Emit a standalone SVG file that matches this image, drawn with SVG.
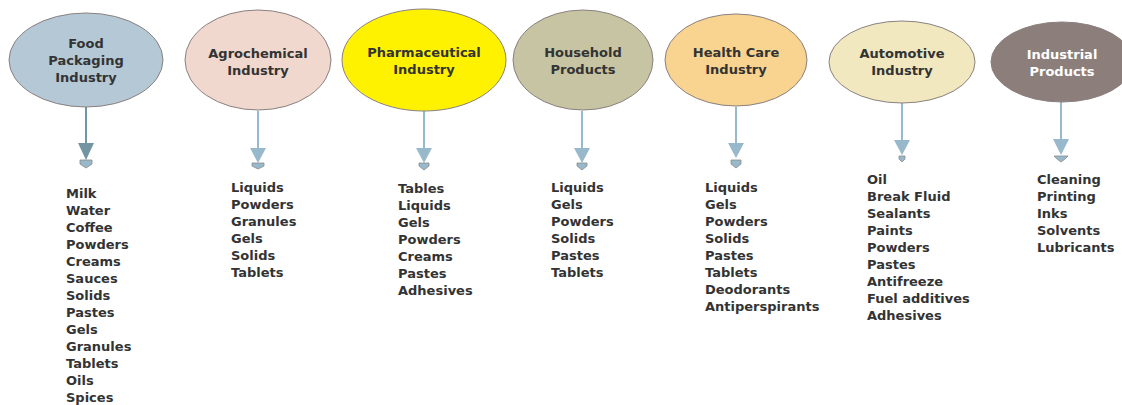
<svg xmlns="http://www.w3.org/2000/svg" width="1122" height="405" viewBox="0 0 1122 405">
<style>
.n{stroke:#8a8080;stroke-width:1}
.lbl{font-family:"DejaVu Sans",sans-serif;font-weight:bold;font-size:13px;fill:#333;text-anchor:middle}
.lst{font-family:"DejaVu Sans",sans-serif;font-weight:bold;font-size:13px;fill:#333}
.ln{stroke:#98b9cb;stroke-width:2;fill:none}
.hd{fill:#98b9cb}
.tip{fill:#98b9cb;stroke:#8a8a8a;stroke-width:0.8}
</style>
<rect width="1122" height="405" fill="#fff"/>
<g id="connectors">
<line class="ln" x1="86" y1="107" x2="86" y2="144" style="stroke:#7394a3"/>
<polygon points="78,143 94,143 86,160" fill="#7394a3"/>
<polygon class="tip" points="80,160 92,160 92,164 86,168 80,164"/>
<line class="ln" x1="258" y1="111" x2="258" y2="149"/>
<polygon class="hd" points="250,148 266,148 258,163"/>
<polygon class="tip" points="252,163 264,163 264,166 258,169 252,166"/>
<line class="ln" x1="424" y1="111" x2="424" y2="149"/>
<polygon class="hd" points="416,148 432,148 424,163"/>
<polygon class="tip" points="419,163 429,163 429,166 424,170 419,166"/>
<line class="ln" x1="582" y1="111" x2="582" y2="149"/>
<polygon class="hd" points="574,148 590,148 582,163"/>
<polygon class="tip" points="577,163 587,163 587,166 582,170 577,166"/>
<line class="ln" x1="736" y1="107" x2="736" y2="144"/>
<polygon class="hd" points="728,143 744,143 736,158"/>
<polygon class="tip" points="731,160 741,160 741,164 736,168 731,164"/>
<line class="ln" x1="902" y1="102" x2="902" y2="141"/>
<polygon class="hd" points="894,140 910,140 902,155"/>
<polygon class="tip" points="899,156 905,156 905,159 902,162 899,159"/>
<line class="ln" x1="1061" y1="102" x2="1061" y2="140"/>
<polygon class="hd" points="1053,139 1069,139 1061,155"/>
<polygon class="tip" points="1054,156 1068,156 1065,159 1061,162 1057,159"/>
</g>
<g id="food">
<ellipse class="n" cx="86" cy="60" rx="77" ry="47" fill="#b4c8d6"/>
<text class="lbl" x="86" y="48">Food</text>
<text class="lbl" x="86" y="65">Packaging</text>
<text class="lbl" x="86" y="82">Industry</text>
<text class="lst" x="66" y="198">Milk</text>
<text class="lst" x="66" y="215">Water</text>
<text class="lst" x="66" y="232">Coffee</text>
<text class="lst" x="66" y="249">Powders</text>
<text class="lst" x="66" y="266">Creams</text>
<text class="lst" x="66" y="283">Sauces</text>
<text class="lst" x="66" y="300">Solids</text>
<text class="lst" x="66" y="317">Pastes</text>
<text class="lst" x="66" y="334">Gels</text>
<text class="lst" x="66" y="351">Granules</text>
<text class="lst" x="66" y="368">Tablets</text>
<text class="lst" x="66" y="385">Oils</text>
<text class="lst" x="66" y="402">Spices</text>
</g>
<g id="agro">
<ellipse class="n" cx="258" cy="60" rx="73" ry="50" fill="#f0d8ce"/>
<text class="lbl" x="258" y="58">Agrochemical</text>
<text class="lbl" x="258" y="75">Industry</text>
<text class="lst" x="231" y="192">Liquids</text>
<text class="lst" x="231" y="209">Powders</text>
<text class="lst" x="231" y="226">Granules</text>
<text class="lst" x="231" y="243">Gels</text>
<text class="lst" x="231" y="260">Solids</text>
<text class="lst" x="231" y="277">Tablets</text>
</g>
<g id="pharma">
<ellipse class="n" cx="424" cy="60" rx="82" ry="51" fill="#fff200"/>
<text class="lbl" x="424" y="57">Pharmaceutical</text>
<text class="lbl" x="424" y="74">Industry</text>
<text class="lst" x="398" y="193">Tables</text>
<text class="lst" x="398" y="210">Liquids</text>
<text class="lst" x="398" y="227">Gels</text>
<text class="lst" x="398" y="244">Powders</text>
<text class="lst" x="398" y="261">Creams</text>
<text class="lst" x="398" y="278">Pastes</text>
<text class="lst" x="398" y="295">Adhesives</text>
</g>
<g id="household">
<ellipse class="n" cx="583" cy="60" rx="70" ry="50" fill="#c7c4a4"/>
<text class="lbl" x="583" y="57">Household</text>
<text class="lbl" x="583" y="74">Products</text>
<text class="lst" x="551" y="192">Liquids</text>
<text class="lst" x="551" y="209">Gels</text>
<text class="lst" x="551" y="226">Powders</text>
<text class="lst" x="551" y="243">Solids</text>
<text class="lst" x="551" y="260">Pastes</text>
<text class="lst" x="551" y="277">Tablets</text>
</g>
<g id="healthcare">
<ellipse class="n" cx="736" cy="60" rx="71" ry="46" fill="#f9d390"/>
<text class="lbl" x="736" y="57">Health Care</text>
<text class="lbl" x="736" y="74">Industry</text>
<text class="lst" x="705" y="192">Liquids</text>
<text class="lst" x="705" y="209">Gels</text>
<text class="lst" x="705" y="226">Powders</text>
<text class="lst" x="705" y="243">Solids</text>
<text class="lst" x="705" y="260">Pastes</text>
<text class="lst" x="705" y="277">Tablets</text>
<text class="lst" x="705" y="294">Deodorants</text>
<text class="lst" x="705" y="311">Antiperspirants</text>
</g>
<g id="automotive">
<ellipse class="n" cx="902" cy="62" rx="73" ry="41" fill="#f1e8c0"/>
<text class="lbl" x="902" y="58">Automotive</text>
<text class="lbl" x="902" y="75">Industry</text>
<text class="lst" x="867" y="184">Oil</text>
<text class="lst" x="867" y="201">Break Fluid</text>
<text class="lst" x="867" y="218">Sealants</text>
<text class="lst" x="867" y="235">Paints</text>
<text class="lst" x="867" y="252">Powders</text>
<text class="lst" x="867" y="269">Pastes</text>
<text class="lst" x="867" y="286">Antifreeze</text>
<text class="lst" x="867" y="303">Fuel additives</text>
<text class="lst" x="867" y="320">Adhesives</text>
</g>
<g id="industrial">
<ellipse class="n" cx="1062" cy="62" rx="71" ry="40" fill="#8c7e7a"/>
<text class="lbl" x="1062" y="59" style="fill:#fff">Industrial</text>
<text class="lbl" x="1062" y="76" style="fill:#fff">Products</text>
<text class="lst" x="1037" y="184">Cleaning</text>
<text class="lst" x="1037" y="201">Printing</text>
<text class="lst" x="1037" y="218">Inks</text>
<text class="lst" x="1037" y="235">Solvents</text>
<text class="lst" x="1037" y="252">Lubricants</text>
</g>
</svg>
